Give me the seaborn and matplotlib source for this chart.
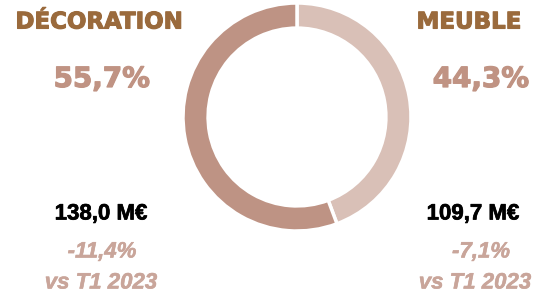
import matplotlib
matplotlib.use("Agg")
import matplotlib.pyplot as plt
import matplotlib.patheffects as pe
import seaborn as sns

# données
segments = ["MEUBLE", "DÉCORATION"]
shares = [44.3, 55.7]
share_labels = ["44,3%", "55,7%"]
amounts = ["109,7 M€", "138,0 M€"]
evolutions = ["-7,1%", "-11,4%"]
comparison = "vs T1 2023"
colors = ["#D9C0B7", "#BE9384"]

sns.set_theme(style="white")

W, H = 539, 297
fig = plt.figure(figsize=(W / 100, H / 100), dpi=100)
fig.patch.set_facecolor("white")

# donut
cx, cy, r = 297, 117, 114
ax = fig.add_axes([(cx - r) / W, (H - cy - r) / H, 2 * r / W, 2 * r / H])
ax.pie(shares, colors=colors, startangle=90, counterclock=False, radius=1,
       wedgeprops=dict(width=0.22, edgecolor="white", linewidth=2.5))
ax.set_xlim(-1, 1)
ax.set_ylim(-1, 1)
ax.set_aspect("equal")
ax.axis("off")


def put(x, y, s, color, stroke=0.0, **kw):
    effects = [pe.withStroke(linewidth=stroke, foreground=color)] if stroke else []
    fig.text(x / W, 1 - y / H, s, ha="center", va="center", color=color,
             fontweight="bold", path_effects=effects, **kw)


title_col = "#9A6A3C"
pct_col = "#C09383"
evo_col = "#C9A59A"

# côté gauche : décoration, côté droit : meuble
left_x = [99, 102, 101, 102, 101]
right_x = [469, 481, 473, 481, 475]
for i, xs in [(1, left_x), (0, right_x)]:
    put(xs[0], 22, segments[i], title_col, stroke=0.8,
        family="DejaVu Sans", fontsize=16.5)
    put(xs[1], 79, share_labels[i], pct_col, stroke=0.9,
        family="DejaVu Sans", fontsize=20)
    put(xs[2], 214, amounts[i], "black", stroke=0.5,
        family="Liberation Sans", fontsize=16)
    put(xs[3], 252, evolutions[i], evo_col, stroke=0.4,
        family="Liberation Sans", style="italic", fontsize=16)
    put(xs[4], 283, comparison, evo_col, stroke=0.4,
        family="Liberation Sans", style="italic", fontsize=16)

fig.savefig("out.png", dpi=100, facecolor="white")
